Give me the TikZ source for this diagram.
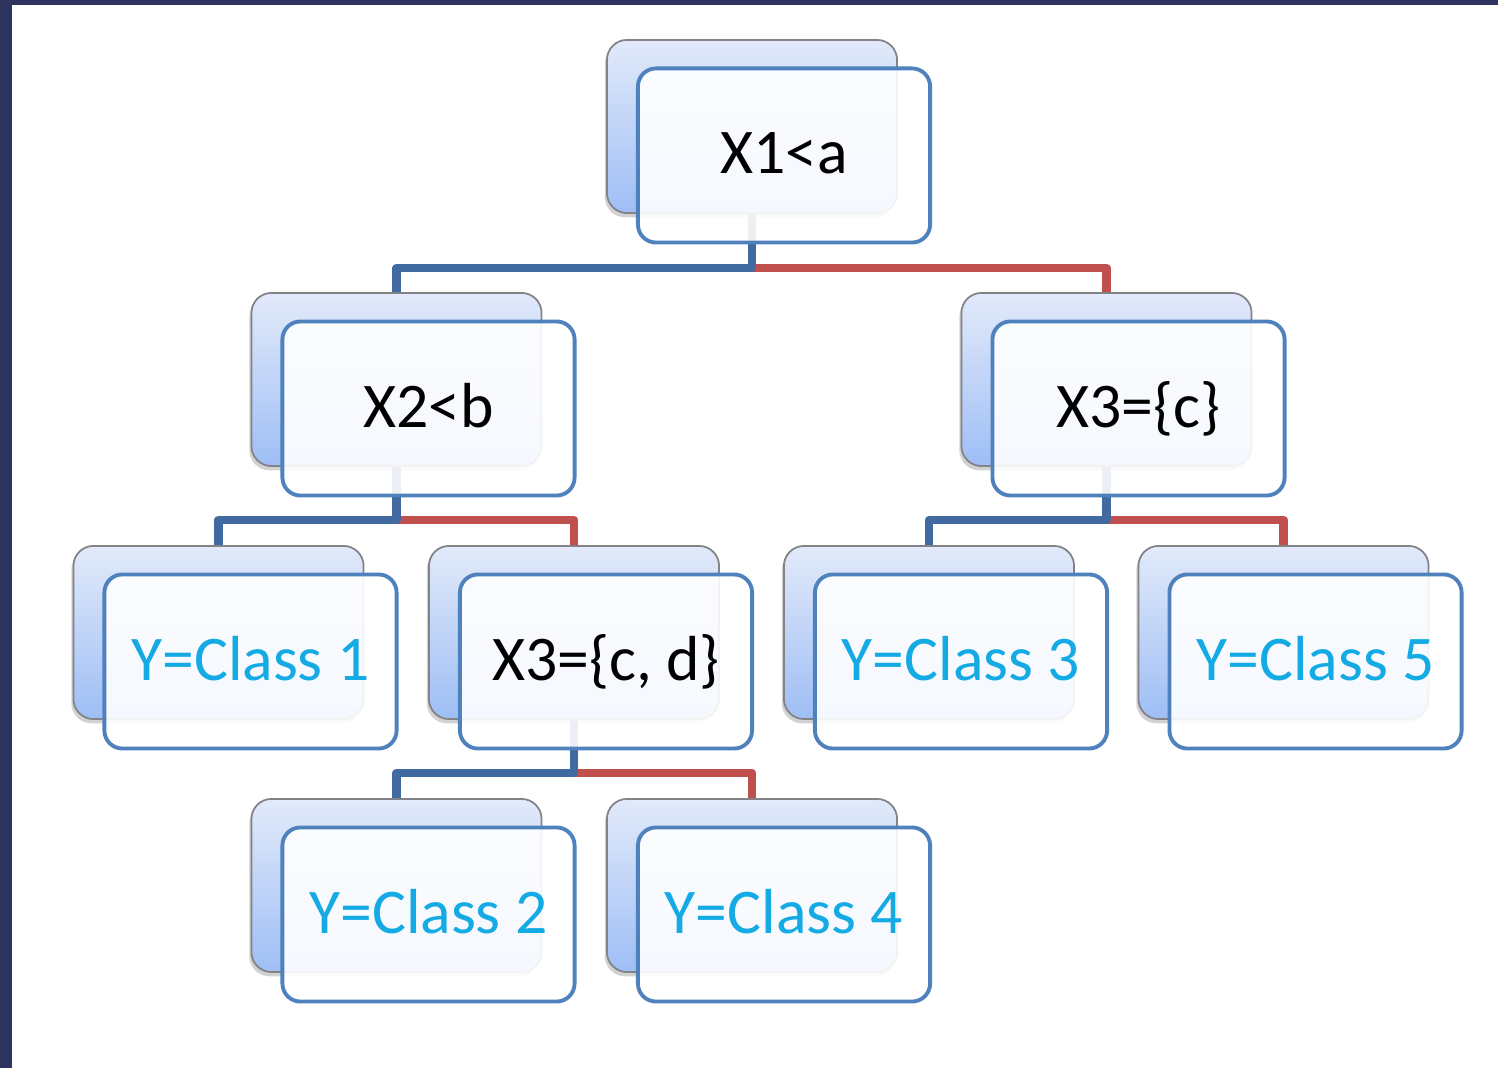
\documentclass[tikz,border=0pt]{standalone}
\usepackage{fontspec}
\setmainfont{Carlito}
\usetikzlibrary{shadows}
\definecolor{navy}{RGB}{46,52,96}
\definecolor{frontline}{RGB}{79,129,189}
\definecolor{linkblue}{RGB}{64,106,160}
\definecolor{linkred}{RGB}{192,80,77}
\definecolor{classcyan}{RGB}{20,170,228}
\definecolor{backtop}{RGB}{226,234,250}
\definecolor{backbot}{RGB}{158,190,245}
\definecolor{backline}{RGB}{130,130,135}
\begin{document}
\begin{tikzpicture}[x=0.01cm,y=-0.01cm,
 backbox/.style={draw=backline, line width=0.5pt, rounded corners=0.2cm,
   minimum width=2.9cm, minimum height=1.73cm, inner sep=0pt,
   top color=backtop, bottom color=backbot,
   drop shadow={shadow xshift=-0.6pt, shadow yshift=-1.2pt, opacity=0.35}},
 frontbox/.style={draw=frontline, line width=1.1pt, rounded corners=0.18cm,
   minimum width=2.92cm, minimum height=1.74cm, inner sep=0pt,
   fill=white, fill opacity=0.9, text opacity=1,
   font=\fontsize{18.1}{21}\selectfont, text height=0.37cm, text depth=0pt},
 cls/.style={frontbox, text=classcyan},
 lnk/.style={line width=0.085cm, line join=round},
 lb/.style={lnk, draw=linkblue},
 lr/.style={lnk, draw=linkred}]
\useasboundingbox (0,0) rectangle (1498,1068);
\fill[navy] (0,0) rectangle (1498,1068);
\fill[white] (12,5) rectangle (1498,1068);
% back boxes
\node[backbox] (rootb) at (752,126.5) {};
\node[backbox] (x2b) at (396.5,379.5) {};
\node[backbox] (x3b) at (1106.5,379.5) {};
\node[backbox] (c1b) at (218.5,632.5) {};
\node[backbox] (x3cdb) at (574,632.5) {};
\node[backbox] (c3b) at (929,632.5) {};
\node[backbox] (c5b) at (1283.5,632.5) {};
\node[backbox] (c2b) at (396.5,885.5) {};
\node[backbox] (c4b) at (752,885.5) {};
% connectors
\coordinate (j1) at (752,268);
\coordinate (j2) at (396.5,520);
\coordinate (j3) at (1106.5,520);
\coordinate (j4) at (574,773);
\draw[lr] (j1) -| (x3b.north);
\draw[lb] (rootb.south) -- (j1) -| (x2b.north);
\draw[lr] (j2) -| (x3cdb.north);
\draw[lb] (x2b.south) -- (j2) -| (c1b.north);
\draw[lr] (j3) -| (c5b.north);
\draw[lb] (x3b.south) -- (j3) -| (c3b.north);
\draw[lr] (j4) -| (c4b.north);
\draw[lb] (x3cdb.south) -- (j4) -| (c2b.north);
% front boxes
\node[frontbox] (rootf) at (784,155.5) {X1<a};
\node[frontbox] (x2f) at (428.5,408.5) {X2<b};
\node[frontbox] (x3f) at (1138.5,408.5) {X3=\{c\}};
\node[cls] (c1f) at (250.5,661.5) {Y=Class 1};
\node[frontbox] (x3cdf) at (606,661.5) {X3=\{c, d\}};
\node[cls] (c3f) at (961,661.5) {Y=Class 3};
\node[cls] (c5f) at (1315.5,661.5) {Y=Class 5};
\node[cls] (c2f) at (428.5,914.5) {Y=Class 2};
\node[cls] (c4f) at (784,914.5) {Y=Class 4};
\end{tikzpicture}
\end{document}
